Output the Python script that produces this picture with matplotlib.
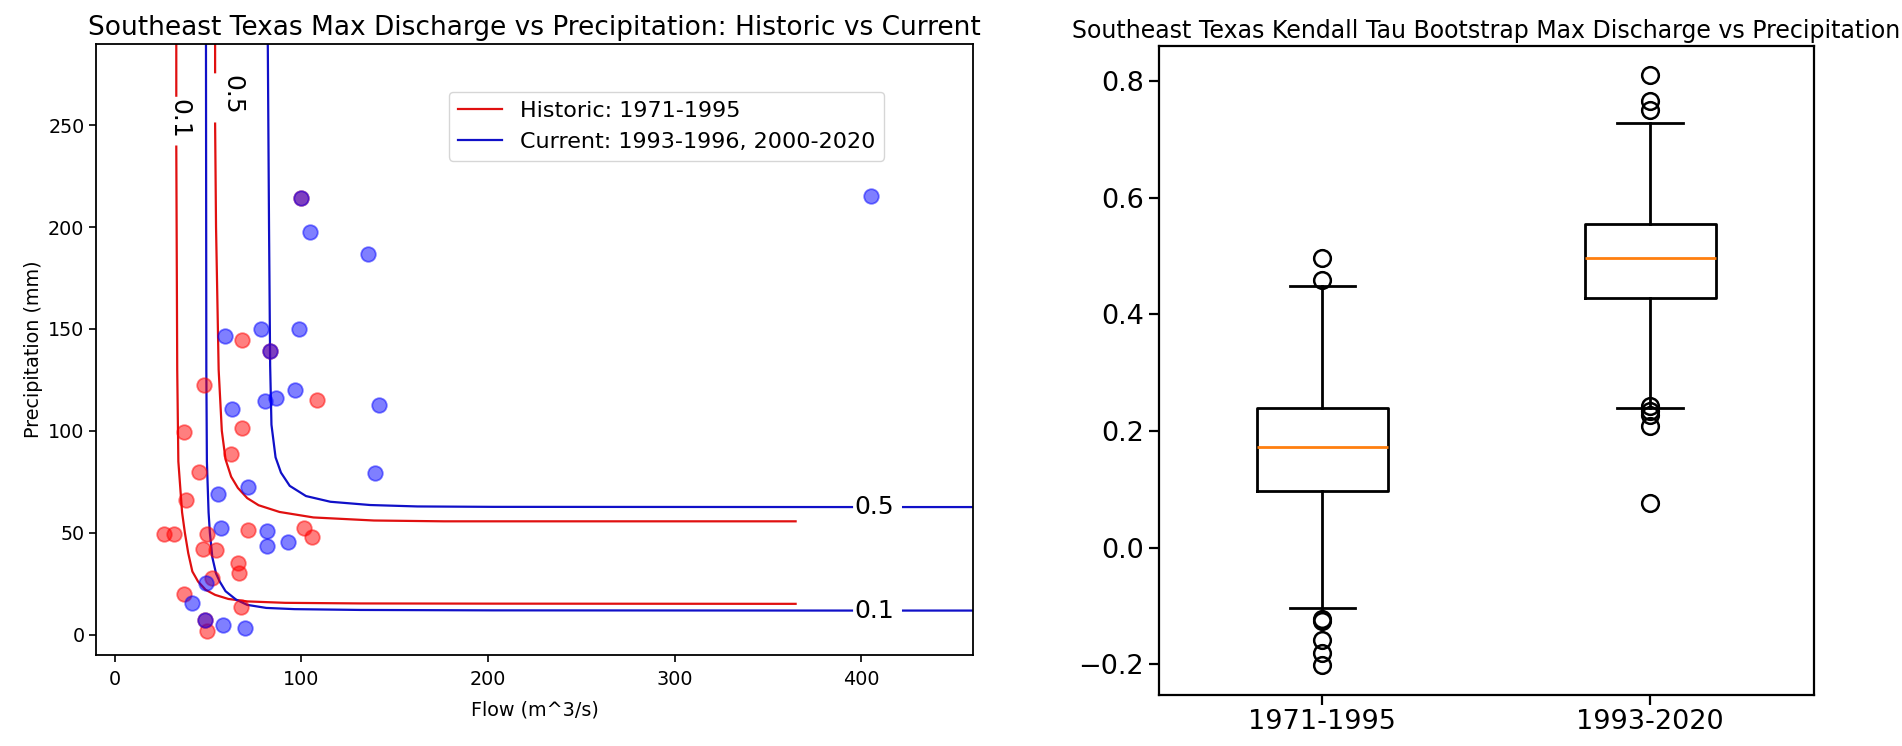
import numpy as np
import matplotlib
matplotlib.use("Agg")
import matplotlib.pyplot as plt

nan = np.nan

# ---------------- data: scatter (flow m^3/s, precipitation mm) ----------------
hist_flow = [47.6, 108.3, 37.1, 68.3, 62.2, 45.1, 38.3, 26.3, 31.5, 49.4, 71.5, 101.5,
             105.5, 47.1, 54.0, 65.9, 66.6, 51.9, 37.2, 67.6, 49.6, 48.4, 68.3, 99.8, 83.2]
hist_prcp = [122.3, 115.2, 99.3, 101.4, 88.6, 79.9, 66.2, 49.6, 49.6, 49.2, 51.1, 52.1,
             47.8, 41.9, 41.6, 35.2, 30.1, 27.8, 19.9, 13.5, 1.8, 7.2, 144.8, 214.2, 139.2]

curr_flow = [96.7, 86.2, 80.5, 62.6, 141.8, 139.4, 71.3, 55.4, 57.1, 81.7, 81.7, 92.9,
             49.0, 41.1, 48.4, 57.8, 69.7, 99.8, 104.6, 135.6, 59.1, 78.3, 98.9, 83.2, 405.3]
curr_prcp = [120.2, 116.2, 114.5, 110.6, 112.8, 79.2, 72.5, 69.0, 52.4, 50.9, 43.5, 45.4,
             25.5, 15.6, 7.2, 4.8, 3.1, 214.2, 197.4, 187.0, 146.4, 149.9, 149.9, 139.2, 215.2]

# ---------------- data: contour lines (nan = label gap) ----------------
hist01_x = [32.9, 32.9, nan, 32.9, 33.4, 34.0, 36.0, 37.5, 39.3, 41.5, 44.6, 48.6, 53.7,
            60.8, 70.9, 91.2, 131.7, 202.7, 364.8]
hist01_y = [295, 264.5, nan, 239.5, 130, 85, 60, 50, 40, 31, 26, 22, 19.5,
            17.5, 16.3, 15.6, 15.3, 15.2, 15.1]

hist05_x = [53.7, 53.7, nan, 53.7, 54.2, 55.6, 57.3, 59.3, 62.3, 65.9, 70.9, 77.0, 88.2,
            106.4, 138.8, 176.3, 364.8]
hist05_y = [295, 276, nan, 250.8, 200, 130, 100, 86, 77.5, 72, 67, 63.5, 60.2,
            57.5, 56.0, 55.6, 55.6]

curr01_x = [48.8, 49.0, 49.3, 50.2, 50.9, 52.2, 54.2, 56.2, 59.3, 64.9, 70.9, 81.1, 96.3,
            131.7, 202.7, 395.0, nan, 422.4, 470.0]
curr01_y = [295, 130, 85, 60, 50, 38, 30, 26, 21.3, 17.2, 14.6, 13.1, 12.5,
            12.1, 11.9, 11.8, nan, 11.8, 11.8]

curr05_x = [81.9, 82.6, 83.2, 83.9, 86.1, 89.0, 93.7, 102.4, 115.5, 136.8, 162.1, 202.7,
            395.0, nan, 422.4, 470.0]
curr05_y = [295, 200, 132, 103, 87, 79.5, 73, 68, 65.2, 63.6, 62.9, 62.7,
            62.6, nan, 62.6, 62.6]

# contour label positions (x, y, text, rotation)
label_x = [34.5, 63.2, 407.0, 407.0]
label_y = [253.3, 265.0, 62.6, 11.8]
label_txt = ["0.1", "0.5", "0.5", "0.1"]
label_rot = [270, 270, 0, 0]

# ---------------- data: bootstrap Kendall tau box statistics ----------------
box_labels = ["1971-1995", "1993-2020"]
box_med = [0.173, 0.497]
box_q1 = [0.097, 0.428]
box_q3 = [0.239, 0.555]
box_whislo = [-0.104, 0.240]
box_whishi = [0.448, 0.728]
box_fliers = [[0.497, 0.459, -0.123, -0.126, -0.159, -0.180, -0.202],
              [0.810, 0.766, 0.751, 0.243, 0.235, 0.227, 0.208, 0.077]]

# ---------------- figure ----------------
fig = plt.figure(figsize=(19.02, 7.46), dpi=100)
RED = "#e01010"
BLUE = "#1010c8"

ax = fig.add_axes([0.0506, 0.1220, 0.4611, 0.8194])
ax.plot(hist01_x, hist01_y, color=RED, lw=1.6, label="Historic: 1971-1995")
ax.plot(hist05_x, hist05_y, color=RED, lw=1.6)
ax.plot(curr01_x, curr01_y, color=BLUE, lw=1.6, label="Current: 1993-1996, 2000-2020")
ax.plot(curr05_x, curr05_y, color=BLUE, lw=1.6)
ax.scatter(hist_flow, hist_prcp, s=110, color="red", alpha=0.5, linewidths=1.3, zorder=3)
ax.scatter(curr_flow, curr_prcp, s=110, color="blue", alpha=0.5, linewidths=1.3, zorder=3)
for lx, ly, lt, lr in zip(label_x, label_y, label_txt, label_rot):
    ax.text(lx, ly, lt, rotation=lr, ha="center", va="center", fontsize=18, zorder=4)

ax.set_xlim(-10, 460)
ax.set_ylim(-10, 290)
ax.set_xticks([0, 100, 200, 300, 400])
ax.set_yticks([0, 50, 100, 150, 200, 250])
ax.tick_params(labelsize=13.8, length=5, width=1.2)
ax.tick_params(axis="x", pad=6)
for sp in ax.spines.values():
    sp.set_linewidth(1.3)
ax.set_xlabel("Flow (m^3/s)", fontsize=13.8, labelpad=8)
ax.set_ylabel("Precipitation (mm)", fontsize=13.8)
ax.set_title("Southeast Texas Max Discharge vs Precipitation: Historic vs Current",
             fontsize=19)
ax.legend(loc="upper left", bbox_to_anchor=(0.402, 0.921), borderaxespad=0,
          fontsize=16)

# ---------------- right: boxplot ----------------
ax2 = fig.add_axes([0.6091, 0.0686, 0.3446, 0.8698])
stats = []
for i in range(2):
    stats.append(dict(med=box_med[i], q1=box_q1[i], q3=box_q3[i],
                      whislo=box_whislo[i], whishi=box_whishi[i],
                      fliers=box_fliers[i], label=box_labels[i]))
lw = 2.0
ax2.bxp(stats, positions=[1, 2], widths=0.4,
        boxprops=dict(linewidth=lw, color="black"),
        whiskerprops=dict(linewidth=lw, color="black"),
        capprops=dict(linewidth=lw, color="black"),
        medianprops=dict(linewidth=lw, color="#ff7f0e"),
        flierprops=dict(marker="o", markersize=12, markerfacecolor="none",
                        markeredgecolor="black", markeredgewidth=1.8))
ax2.set_xlim(0.5, 2.5)
ax2.set_ylim(-0.2526, 0.8606)
ax2.set_yticks([-0.2, 0.0, 0.2, 0.4, 0.6, 0.8])
ax2.tick_params(labelsize=19.5, length=7, width=1.6)
for sp in ax2.spines.values():
    sp.set_linewidth(1.6)
ax2.set_title("Southeast Texas Kendall Tau Bootstrap Max Discharge vs Precipitation",
              fontsize=17)

fig.savefig("out.png", dpi=100)
